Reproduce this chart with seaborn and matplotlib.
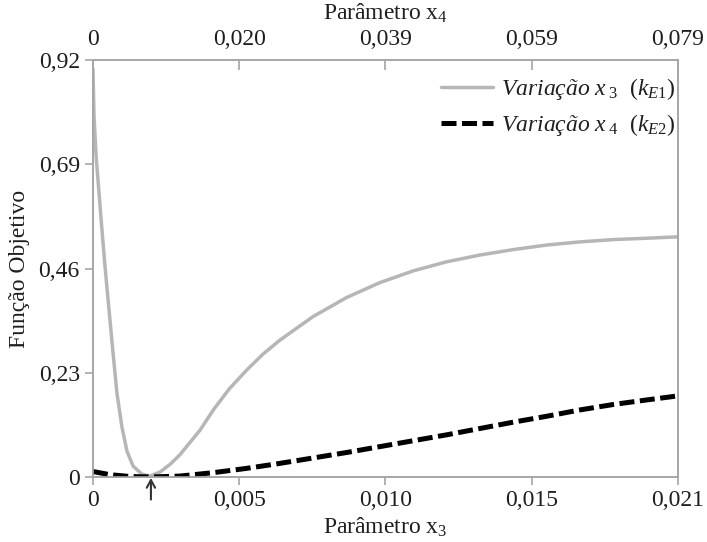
import numpy as np
import pandas as pd
import matplotlib
matplotlib.use('Agg')
import matplotlib.pyplot as plt
import seaborn as sns
from matplotlib.lines import Line2D

# gray curve: objective function vs parameter x3 (bottom axis)
x3_vals = [0, 0.000036, 0.00011, 0.00029, 0.00043, 0.00068, 0.00086, 0.00104,
           0.00122, 0.00144, 0.00176, 0.00205, 0.00241, 0.00277, 0.00312,
           0.00384, 0.00432, 0.0049, 0.00552, 0.0061, 0.00671, 0.0079, 0.0091,
           0.0103, 0.0115, 0.0127, 0.0139, 0.0151, 0.0163, 0.0175, 0.0187,
           0.0199, 0.021]
f_x3 = [0.90, 0.80, 0.71, 0.57, 0.466, 0.30, 0.185, 0.11,
        0.057, 0.024, 0.006, 0.002, 0.011, 0.028, 0.049,
        0.103, 0.148, 0.195, 0.236, 0.271, 0.302, 0.354, 0.396,
        0.429, 0.455, 0.475, 0.490, 0.502, 0.512, 0.519, 0.524,
        0.527, 0.530]

# black dashed curve: objective function vs parameter x4 (top axis)
x4_vals = [0, 0.0023, 0.0050, 0.0077, 0.0100, 0.01175, 0.01625, 0.02076,
           0.02525, 0.02975, 0.03426, 0.03876, 0.04325, 0.04776, 0.05226,
           0.05677, 0.06127, 0.06577, 0.07027, 0.07477, 0.079]
f_x4 = [0.012, 0.005, 0.001, 0.0, 0.001, 0.002, 0.0095, 0.019,
        0.030, 0.042, 0.054, 0.067, 0.080, 0.093, 0.107,
        0.121, 0.134, 0.148, 0.160, 0.170, 0.179]

x3_ticks = [0, 0.00525, 0.0105, 0.01575, 0.021]
x3_labels = ['0', '0,005', '0,010', '0,015', '0,021']
x4_ticks = [0, 0.01975, 0.0395, 0.05925, 0.079]
x4_labels = ['0', '0,020', '0,039', '0,059', '0,079']
y_ticks = [0, 0.23, 0.46, 0.69, 0.92]
y_labels = ['0', '0,23', '0,46', '0,69', '0,92']
x_opt = 0.00208

sns.set_style('white')
plt.rcParams['font.family'] = ['Liberation Serif', 'DejaVu Serif']
plt.rcParams['mathtext.fontset'] = 'custom'
plt.rcParams['mathtext.rm'] = 'Liberation Serif'
plt.rcParams['mathtext.it'] = 'Liberation Serif:italic'

spine_c = '#a6a6a6'
text_c = '#1e1e1e'
gray_c = '#b6b6b6'
fs = 17
dash = [3.0, 1.1]

df3 = pd.DataFrame({'x': x3_vals, 'f': f_x3})
df4 = pd.DataFrame({'x': x4_vals, 'f': f_x4})

fig = plt.figure(figsize=(7.07, 5.42), dpi=100)
ax = fig.add_axes([0.1315, 0.12, 0.8275, 0.769])
ax2 = ax.twiny()

sns.lineplot(data=df3, x='x', y='f', ax=ax, color=gray_c, linewidth=2.5,
             estimator=None, sort=False, label='_g')
sns.lineplot(data=df4, x='x', y='f', ax=ax2, color='black', linewidth=3.6,
             estimator=None, sort=False, label='_k')
ax2.lines[0].set_dashes(dash)

ax.set_xlim(0, 0.021)
ax.set_ylim(0, 0.92)
ax2.set_xlim(0, 0.079)
ax2.set_ylim(0, 0.92)

ax.set_xticks(x3_ticks, x3_labels)
ax.set_yticks(y_ticks, y_labels)
ax2.set_xticks(x4_ticks, x4_labels)

for a in (ax, ax2):
    for s in a.spines.values():
        s.set_color(spine_c)
        s.set_linewidth(1.2)
ax.tick_params(axis='both', which='both', direction='out', length=6, width=1.2,
               color=spine_c, labelsize=fs, labelcolor=text_c, bottom=True, left=True)
ax2.tick_params(axis='x', direction='in', length=7, width=1.2, color=spine_c,
                labelsize=fs, labelcolor=text_c, top=True, pad=7)

ax.set_xlabel(r'Parâmetro $\mathrm{x}_3$', fontsize=fs, color=text_c, labelpad=3)
ax2.set_xlabel(r'Parâmetro $\mathrm{x}_4$', fontsize=fs, color=text_c, labelpad=7)
ax.set_ylabel('Função Objetivo', fontsize=fs, color=text_c, labelpad=6)

# legend
h1 = Line2D([], [], color=gray_c, linewidth=2.5)
h2 = Line2D([], [], color='black', linewidth=3.6, dashes=dash)
leg = ax2.legend([h1, h2],
                 [r'Variação $x_{\;\mathit{3}}$  $\mathit{(k}_{\mathit{E1}}\mathit{)}$',
                  r'Variação $x_{\;\mathit{4}}$  $\mathit{(k}_{\mathit{E2}}\mathit{)}$'],
                 loc='upper right', bbox_to_anchor=(1.012, 0.985), frameon=False,
                 handlelength=2.2, handletextpad=0.35, labelspacing=0.45, borderaxespad=0.0,
                 prop={'family': 'Liberation Serif', 'style': 'italic', 'size': fs})
for t in leg.get_texts():
    t.set_color(text_c)

# arrow marking the optimum
ax.annotate('', xy=(x_opt, 0.004), xytext=(x_opt, -0.056), xycoords='data',
            arrowprops=dict(arrowstyle='->,head_width=0.3,head_length=0.55',
                            color='#333333', lw=1.5),
            annotation_clip=False)

fig.savefig('out.png', dpi=100)
